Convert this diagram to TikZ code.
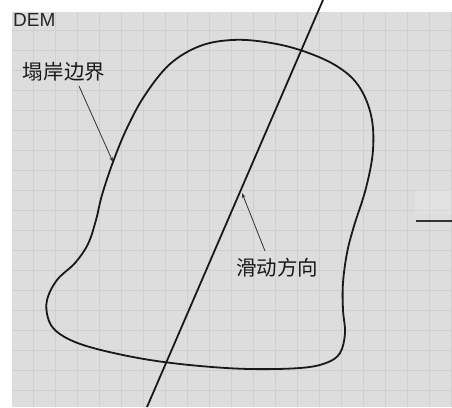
\documentclass[tikz,border=0pt]{standalone}
\usepackage{fontspec}
\setmainfont{Liberation Sans}
\newfontfamily\cjk{Noto Sans CJK SC}
\usetikzlibrary{arrows.meta}
\definecolor{bggray}{RGB}{221,221,221}
\definecolor{gridgray}{RGB}{207,207,207}
\definecolor{leadgray}{RGB}{50,50,50}
\tikzset{
  outline/.style={line width=1.8pt, black!90, line join=round},
  leader/.style={line width=0.8pt, leadgray, -{Stealth[length=5pt,width=3.5pt]}},
  cjklabel/.style={font=\cjk\fontsize{20.5}{22}\selectfont, inner sep=0pt, text=black!90},
}
\begin{document}
\begin{tikzpicture}[x=1pt,y=-1pt]
\useasboundingbox (0,0) rectangle (452,407);
\fill[white] (0,0) rectangle (452,407);
\fill[bggray] (12,12) rectangle (452,407);
% grid
\foreach \gx in {33,55,...,451} \draw[gridgray, line width=0.6pt] (\gx,12) -- (\gx,407);
\foreach \gy in {30,50,...,390} \draw[gridgray, line width=0.6pt] (12,\gy) -- (452,\gy);
% faint patch and stray mark at right
\fill[white, opacity=0.15] (415,190) rectangle (452,214);
\coordinate (m1) at (416,221);
\coordinate (m2) at (452,221);
\draw[line width=1.2pt, black!80] (m1) -- (m2);
% DEM label
\node[anchor=north west, inner sep=0pt, font=\fontsize{19}{21}\selectfont, text=black!85] (dem) at (13,13.5) {DEM};
% boundary curve
\draw[outline] plot[smooth cycle, tension=0.6] coordinates {
 (232,40) (200,46) (170,64) (145,95) (127,128) (113,162) (102,195) (96,220)
 (88,244) (75,263) (57,280) (47,300) (48,318) (56,331) (75,342) (105,351)
 (150,360) (200,366) (250,369) (300,368) (326,363) (340,353) (345,333)
 (343,310) (343,283) (347,253) (354,226) (366,188) (373,150) (371,115)
 (358,85) (335,65) (300,50) (265,42)};
% sliding direction line
\coordinate (L1) at (323,0);
\coordinate (L2) at (147,407);
\draw[outline] (L1) -- (L2);
% labels and leaders
\node[cjklabel] (t1) at (64,72) {塌岸边界};
\coordinate (s1) at (79,86);
\coordinate (p1) at (113,162);
\draw[leader] (s1) -- (p1);
\node[cjklabel] (t2) at (277,268) {滑动方向};
\coordinate (s2) at (265,251);
\coordinate (p2) at (242,193);
\draw[leader] (s2) -- (p2);
\end{tikzpicture}
\end{document}
